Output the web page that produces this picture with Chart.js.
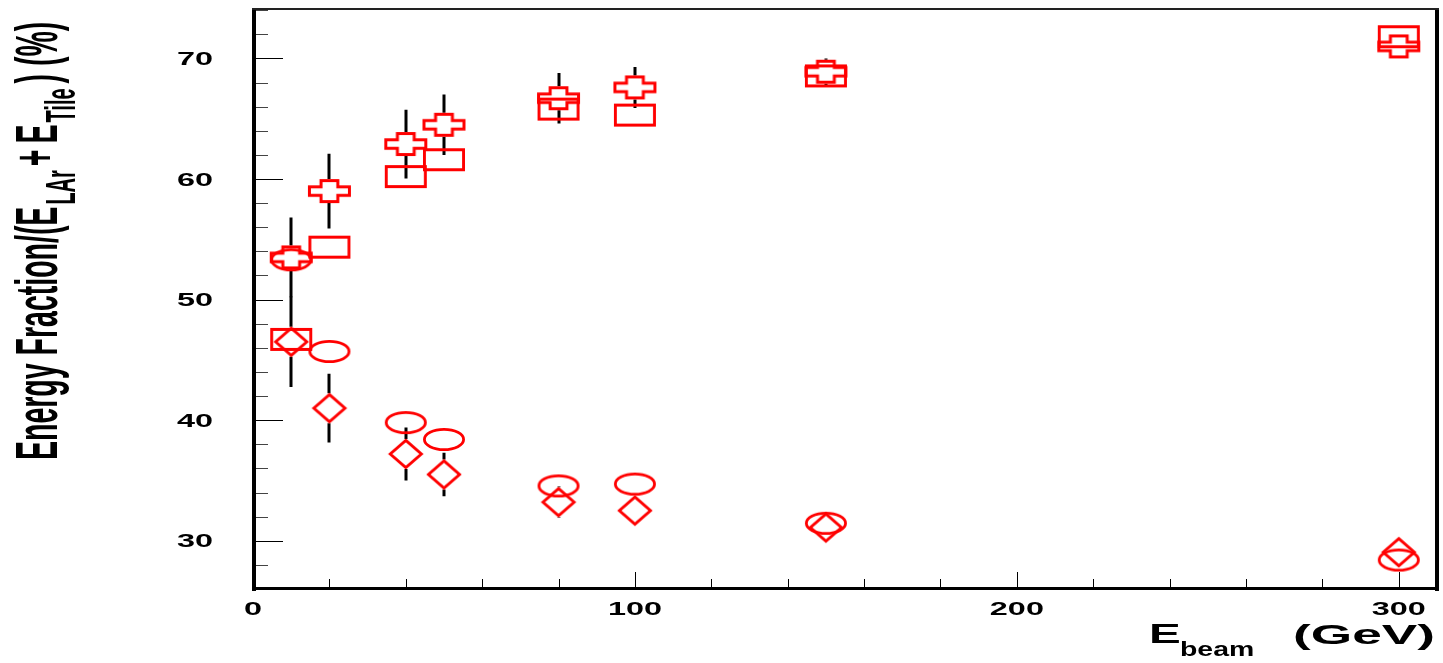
<!DOCTYPE html>
<html>
<head>
<meta charset="utf-8">
<title>Energy fraction vs beam energy</title>
<script src="https://cdn.jsdelivr.net/npm/chart.js@4.4.1/dist/chart.umd.min.js"></script>
<style>
  html, body { margin: 0; padding: 0; background: #fff; }
  #wrap { width: 1443px; height: 663px; position: relative; }
</style>
</head>
<body>
<div id="wrap"><canvas id="fracChart"></canvas></div>
<script>
// beam energies (GeV)
const beamEnergy = [10, 20, 40, 50, 80, 100, 150, 300];

// energy fractions (%), one array per marker style
const crossVals   = [53.5, 59.0, 62.9, 64.5, 66.7, 67.6, 68.9, 71.0];
const crossErr    = [3.3, 3.1, 2.85, 2.5, 2.1, 1.7, 1.1, 0.8];
const squareVals  = [46.7, 54.35, 60.2, 61.6, 65.8, 65.3, 68.55, 71.8];
const circleVals  = [53.3, 45.7, 39.8, 38.4, 34.55, 34.7, 31.45, 28.4];
const diamondVals = [46.5, 41.0, 37.2, 35.5, 33.2, 32.5, 31.1, 29.05];
const diamondErr  = [3.75, 2.85, 2.2, 1.8, 1.3, 1.1, 0.9, 0.6];

const xTickLabels = [0, 100, 200, 300];
const yTickLabels = [30, 40, 50, 60, 70];

const RED = '#ff0000';
const LABEL_FONT = 'bold 18px "Liberation Sans", Arial, sans-serif';
const STRETCH = 1.8;

// hollow marker drawn into a small canvas, used as pointStyle
function marker(w, h, lw, path) {
  const pad = 2;
  const c = document.createElement('canvas');
  c.width = w + 2 * pad;
  c.height = h + 2 * pad;
  const g = c.getContext('2d');
  g.translate(c.width / 2, c.height / 2);
  g.strokeStyle = RED;
  g.lineWidth = lw;
  g.lineJoin = 'miter';
  g.beginPath();
  path(g, w / 2 - lw / 2, h / 2 - lw / 2);
  g.closePath();
  g.stroke();
  return c;
}

const crossMarker = marker(43, 24, 3, (g, a, b) => {
  const ax = a * 0.42, ay = b * 0.4;
  const pts = [[-ax,-b],[ax,-b],[ax,-ay],[a,-ay],[a,ay],[ax,ay],[ax,b],[-ax,b],[-ax,ay],[-a,ay],[-a,-ay],[-ax,-ay]];
  g.moveTo(pts[0][0], pts[0][1]);
  pts.slice(1).forEach(p => g.lineTo(p[0], p[1]));
});
const squareMarker = marker(42, 23, 2.9, (g, a, b) => g.rect(-a, -b, 2 * a, 2 * b));
const circleMarker = marker(42, 23, 2.8, (g, a, b) => g.ellipse(0, 0, a, b, 0, 0, Math.PI * 2));
const diamondMarker = marker(34, 30, 2.9, (g, a, b) => {
  g.moveTo(0, -b); g.lineTo(a, 0); g.lineTo(0, b); g.lineTo(-a, 0);
});

function points(vals) {
  return vals.map((v, i) => ({ x: beamEnergy[i], y: v }));
}

// vertical error bars, interrupted by the marker
const errorBars = [
  { vals: crossVals, err: crossErr, half: 12 },
  { vals: diamondVals, err: diamondErr, half: 15 }
];

function drawText(ctx, text, x, y, font, sx, align) {
  ctx.save();
  ctx.translate(x, y);
  ctx.scale(sx, 1);
  ctx.font = font;
  ctx.textAlign = align;
  ctx.textBaseline = 'alphabetic';
  ctx.fillText(text, 0, 0);
  ctx.restore();
}

const rootFrame = {
  id: 'rootFrame',
  beforeDatasetsDraw(chart) {
    const { ctx, scales: { x, y } } = chart;
    ctx.save();
    ctx.strokeStyle = '#000';
    ctx.lineWidth = 3;
    errorBars.forEach(set => {
      set.vals.forEach((v, i) => {
        const px = Math.round(x.getPixelForValue(beamEnergy[i]));
        const py = y.getPixelForValue(v);
        const top = y.getPixelForValue(v + set.err[i]);
        const bot = y.getPixelForValue(v - set.err[i]);
        ctx.beginPath();
        if (py - set.half > top) { ctx.moveTo(px, top); ctx.lineTo(px, py - set.half); }
        if (py + set.half < bot) { ctx.moveTo(px, py + set.half); ctx.lineTo(px, bot); }
        ctx.stroke();
      });
    });
    ctx.restore();
  },
  afterDraw(chart) {
    const { ctx, chartArea: ca, scales: { x, y } } = chart;
    ctx.save();

    // frame
    ctx.fillStyle = '#000';
    ctx.fillRect(ca.left - 1, ca.top - 1, 4, ca.bottom - ca.top + 3);
    ctx.fillRect(ca.left - 1, ca.bottom - 2, ca.right - ca.left + 3, 3);
    ctx.fillRect(ca.right - 2, ca.top - 1, 4, ca.bottom - ca.top + 3);
    ctx.fillStyle = '#222';
    ctx.fillRect(ca.left - 1, ca.top - 1, ca.right - ca.left + 3, 2);

    // y ticks
    ctx.lineWidth = 1;
    y.ticks.forEach(t => {
      if (t.value <= y.min || t.value >= y.max) return;
      const py = Math.round(y.getPixelForValue(t.value)) + 0.5;
      const major = t.value % 10 === 0;
      ctx.strokeStyle = major ? '#000' : '#444';
      ctx.beginPath();
      ctx.moveTo(ca.left + 3, py);
      ctx.lineTo(ca.left + 3 + (major ? 27 : 12), py);
      ctx.stroke();
    });

    // x ticks
    x.ticks.forEach(t => {
      if (t.value <= x.min || t.value >= x.max) return;
      const px = Math.round(x.getPixelForValue(t.value)) + 0.5;
      const major = t.value % 100 === 0;
      ctx.strokeStyle = '#000';
      ctx.beginPath();
      ctx.moveTo(px, ca.bottom - 2);
      ctx.lineTo(px, ca.bottom - 2 - (major ? 15 : 8));
      ctx.stroke();
    });

    // tick labels
    ctx.fillStyle = '#000';
    yTickLabels.forEach(v => {
      drawText(ctx, String(v), 213, y.getPixelForValue(v) + 6.5, LABEL_FONT, STRETCH, 'right');
    });
    xTickLabels.forEach(v => {
      drawText(ctx, String(v), x.getPixelForValue(v), 615, LABEL_FONT, STRETCH, 'center');
    });

    // x title: E_beam (GeV)
    const big = 'bold 28px "Liberation Sans", Arial, sans-serif';
    const sub = 'bold 19.6px "Liberation Sans", Arial, sans-serif';
    drawText(ctx, 'E', 1149, 643, big, 1.7, 'left');
    drawText(ctx, 'beam', 1180, 656, sub, 1.45, 'left');
    drawText(ctx, '(GeV)', 1435, 644, big, 1.9, 'right');

    // y title: Energy Fraction/(E_LAr+ E_Tile) (%)
    const ybig = 'bold 28.5px "Liberation Sans", Arial, sans-serif';
    const ysub = 'bold 20px "Liberation Sans", Arial, sans-serif';
    ctx.translate(57, 460);
    ctx.rotate(-Math.PI / 2);
    ctx.scale(1, 2.1);
    ctx.textBaseline = 'alphabetic';
    ctx.textAlign = 'left';
    const parts = [
      ['Energy Fraction/(E', ybig, 0, 2],
      ['LAr', ysub, 8.5, 4],
      ['+', ybig, -1, 6],
      ['E', ybig, 0, 2],
      ['Tile', ysub, 8.5, 5],
      [') (%)', ybig, 0, 0]
    ];
    let pos = 0;
    parts.forEach(([txt, font, dy, gap]) => {
      ctx.font = font;
      ctx.fillText(txt, pos, dy);
      pos += ctx.measureText(txt).width + gap;
    });

    ctx.restore();
  }
};

const ctx = document.getElementById('fracChart').getContext('2d');
new Chart(ctx, {
  type: 'scatter',
  data: {
    datasets: [
      { label: 'cross', data: points(crossVals), pointStyle: crossMarker, pointRadius: 12 },
      { label: 'square', data: points(squareVals), pointStyle: squareMarker, pointRadius: 12 },
      { label: 'circle', data: points(circleVals), pointStyle: circleMarker, pointRadius: 12 },
      { label: 'diamond', data: points(diamondVals), pointStyle: diamondMarker, pointRadius: 12 }
    ]
  },
  options: {
    responsive: true,
    maintainAspectRatio: false,
    animation: false,
    layout: { autoPadding: false, padding: { left: 253, top: 9, right: 6, bottom: 74 } },
    plugins: {
      legend: { display: false },
      tooltip: { enabled: false }
    },
    scales: {
      x: {
        type: 'linear',
        min: 0,
        max: 310,
        grid: { display: false },
        border: { display: false },
        ticks: { display: false, stepSize: 20, includeBounds: false },
        afterFit(s) { s.height = 0; }
      },
      y: {
        type: 'linear',
        min: 26,
        max: 74.1,
        grid: { display: false },
        border: { display: false },
        ticks: { display: false, stepSize: 2, includeBounds: false },
        afterFit(s) { s.width = 0; }
      }
    }
  },
  plugins: [rootFrame]
});
</script>
</body>
</html>
